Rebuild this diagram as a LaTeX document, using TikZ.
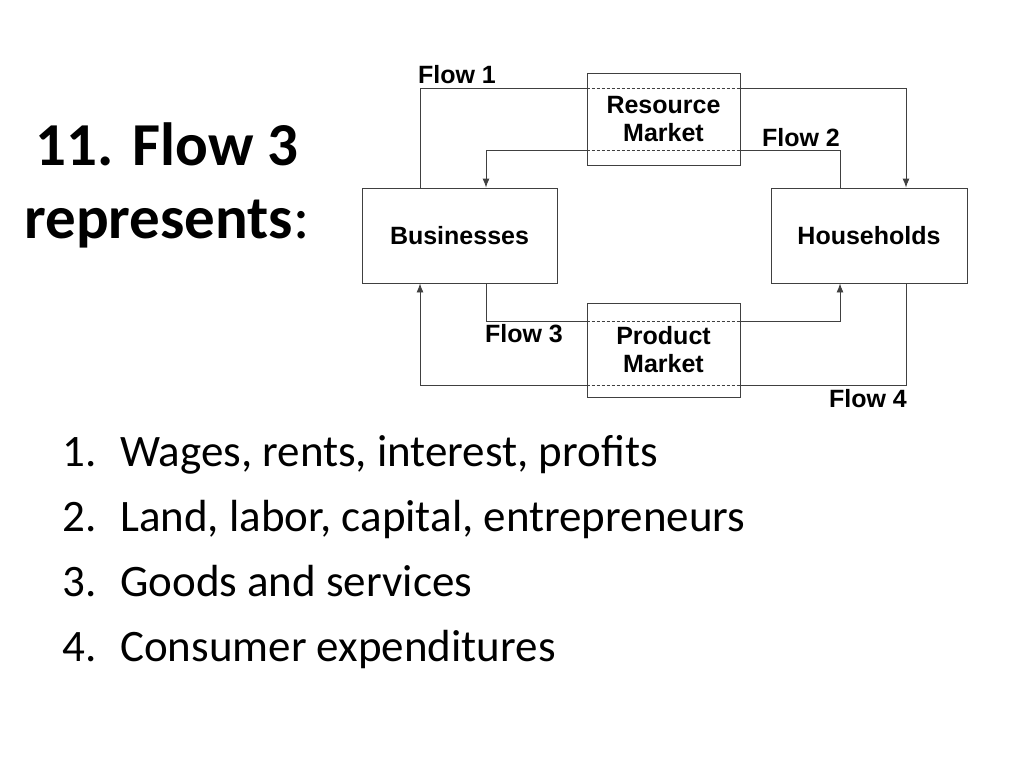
\documentclass[tikz,border=0pt]{standalone}
\usepackage{fontspec}
\usetikzlibrary{arrows.meta}
\setmainfont{Carlito}
\newfontfamily\arial{Liberation Sans}
\begin{document}
\begin{tikzpicture}[x=1pt,y=-1pt,
  box/.style={draw=black!75,line width=0.9pt,fill=white,inner sep=0pt,font=\arial\bfseries\fontsize{25}{30}\selectfont,align=center},
  flow/.style={draw=black!75,line width=0.9pt},
  arr/.style={flow,-{Latex[length=9pt,width=7pt]}},
  dsh/.style={draw=black!75,line width=0.9pt,dash pattern=on 3pt off 2pt},
  lab/.style={font=\arial\bfseries\fontsize{25}{30}\selectfont,inner sep=0pt},
  item/.style={anchor=base west,font=\fontsize{45}{54}\selectfont,inner sep=0pt}]
\useasboundingbox (0,0) rectangle (1024,768);
\node[box,minimum width=195pt,minimum height=95pt] (bus) at (459.5,235.5) {Businesses};
\node[box,minimum width=196pt,minimum height=95pt] (hh) at (869,235.5) {Households};
\coordinate (f1a) at (420,88); \coordinate (f1b) at (906,88);
\coordinate (f2a) at (840,150); \coordinate (f2b) at (486,150);
\coordinate (f3a) at (486,321); \coordinate (f3b) at (840,321);
\coordinate (f4a) at (906,385); \coordinate (f4b) at (420,385);
\draw[arr] (bus.north -| f1a) -- (f1a) -- (f1b) -- (hh.north -| f1b);
\draw[arr] (hh.north -| f2a) -- (f2a) -- (f2b) -- (bus.north -| f2b);
\draw[arr] (bus.south -| f3a) -- (f3a) -- (f3b) -- (hh.south -| f3b);
\draw[arr] (hh.south -| f4a) -- (f4a) -- (f4b) -- (bus.south -| f4b);
\node[box,minimum width=153pt,minimum height=92pt] (rm) at (663.5,119) {Resource\\[-2pt]Market};
\node[box,minimum width=153pt,minimum height=94pt] (pm) at (663.5,350) {Product\\[-2pt]Market};
\draw[dsh] (rm.west |- f1a) -- (rm.east |- f1a);
\draw[dsh] (rm.west |- f2a) -- (rm.east |- f2a);
\draw[dsh] (pm.west |- f3a) -- (pm.east |- f3a);
\draw[dsh] (pm.west |- f4a) -- (pm.east |- f4a);
\node[lab] (l1) at (457,75) {Flow 1};
\node[lab] (l2) at (801,138) {Flow 2};
\node[lab] (l3) at (524,334) {Flow 3};
\node[lab] (l4) at (868,399) {Flow 4};
\node[anchor=base,font=\bfseries\fontsize{61}{70}\selectfont,inner sep=0pt] (t1) at (167,165) {11. Flow 3};
\node[anchor=base,font=\fontsize{61}{70}\selectfont,inner sep=0pt] (t2) at (167,238) {\textbf{represents}:};
\foreach \n/\t/\y in {1/{Wages, rents, interest, profits}/466, 2/{Land, labor, capital, entrepreneurs}/531, 3/{Goods and services}/596, 4/{Consumer expenditures}/661}{
  \node[item] (n\n) at (62,\y) {\n.};
  \node[item] (i\n) at (120,\y) {\t};
}
\end{tikzpicture}
\end{document}
